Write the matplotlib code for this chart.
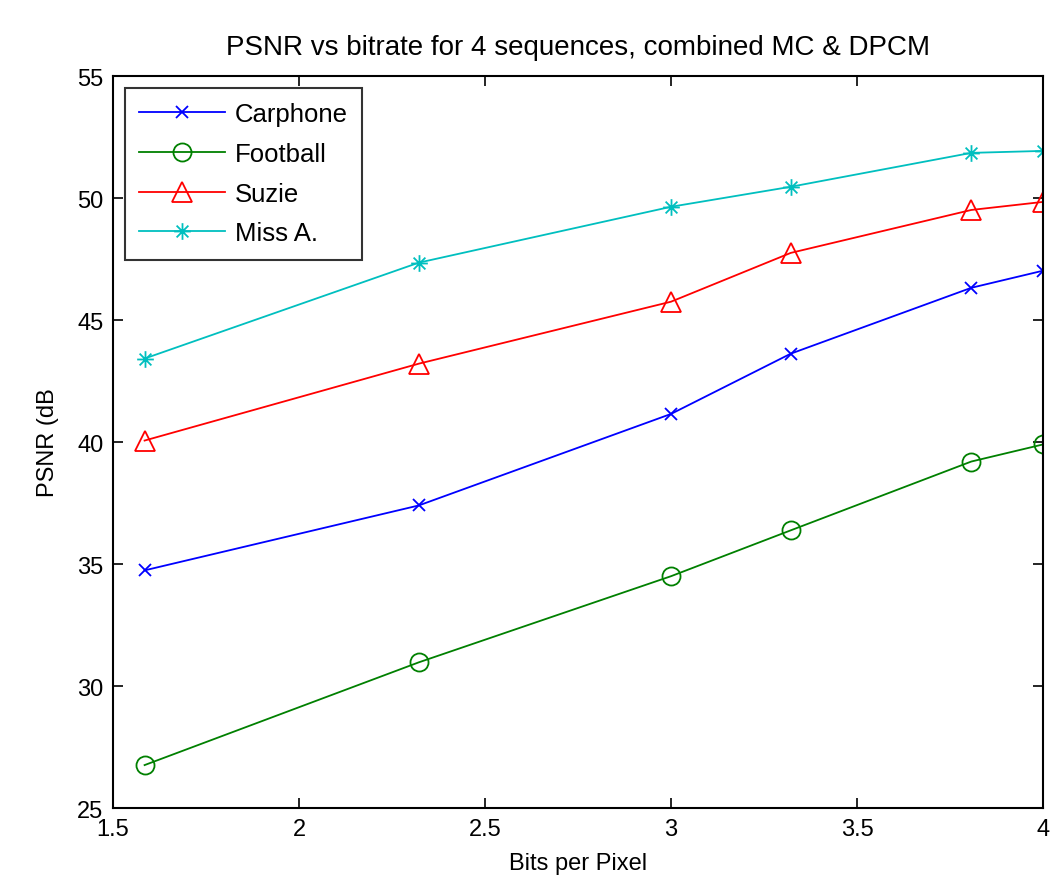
import numpy as np
import matplotlib.pyplot as plt
from matplotlib.path import Path

plt.rcParams['font.family'] = ['Liberation Sans', 'DejaVu Sans']

# bits per pixel (log2 of number of quantiser levels)
bpp = [np.log2(3), np.log2(5), 3, np.log2(10), np.log2(14), 4]

carphone = [34.74, 37.4, 41.15, 43.62, 46.32, 47.02]
football = [26.76, 30.97, 34.5, 36.38, 39.2, 39.9]
suzie = [40.06, 43.21, 45.75, 47.75, 49.51, 49.84]
miss_a = [43.42, 47.35, 49.64, 50.46, 51.85, 51.93]

names = ['Carphone', 'Football', 'Suzie', 'Miss A.']

# matlab style asterisk: + and x on top of each other
d = 0.7071
star = Path([(0, -1), (0, 1), (-1, 0), (1, 0), (-d, -d), (d, d), (-d, d), (d, -d)],
            [Path.MOVETO, Path.LINETO] * 4)

fig = plt.figure(figsize=(10.52, 8.79), dpi=100)
ax = fig.add_axes([0.1074, 0.0796, 0.8840, 0.8328])

ax.plot(bpp, carphone, '-x', color='#0000ff', lw=1.3, ms=8, mew=1.3, label=names[0])
ax.plot(bpp, football, '-o', color='#008000', lw=1.3, ms=13, mew=1.3, mfc='none', label=names[1])
ax.plot(bpp, suzie, '-^', color='#ff0000', lw=1.3, ms=14, mew=1.3, mfc='none', label=names[2])
ax.plot(bpp, miss_a, '-', marker=star, color='#00bfbf', lw=1.3, ms=12, mew=1.3, label=names[3])

ax.set_xlim(1.5, 4)
ax.set_ylim(25, 55)
ax.set_xticks([1.5, 2, 2.5, 3, 3.5, 4])
ax.set_xticklabels(['1.5', '2', '2.5', '3', '3.5', '4'])
ax.set_yticks(range(25, 56, 5))
ax.tick_params(direction='in', top=True, right=True, length=7, width=1.2, labelsize=17, pad=7)
for s in ax.spines.values():
    s.set_linewidth(1.5)

ax.set_title('PSNR vs bitrate for 4 sequences, combined MC & DPCM', fontsize=20, pad=16)
ax.set_xlabel('Bits per Pixel', fontsize=17, labelpad=9)
ax.set_ylabel('PSNR (dB', fontsize=17, labelpad=13)

leg = ax.legend(loc='upper left', fontsize=18.5, frameon=True, fancybox=False,
                edgecolor='black', borderaxespad=0.45, handlelength=3.35,
                labelspacing=0.62, borderpad=0.55, handletextpad=0.4)
leg.get_frame().set_linewidth(1.5)

fig.savefig('out.png', dpi=100)
